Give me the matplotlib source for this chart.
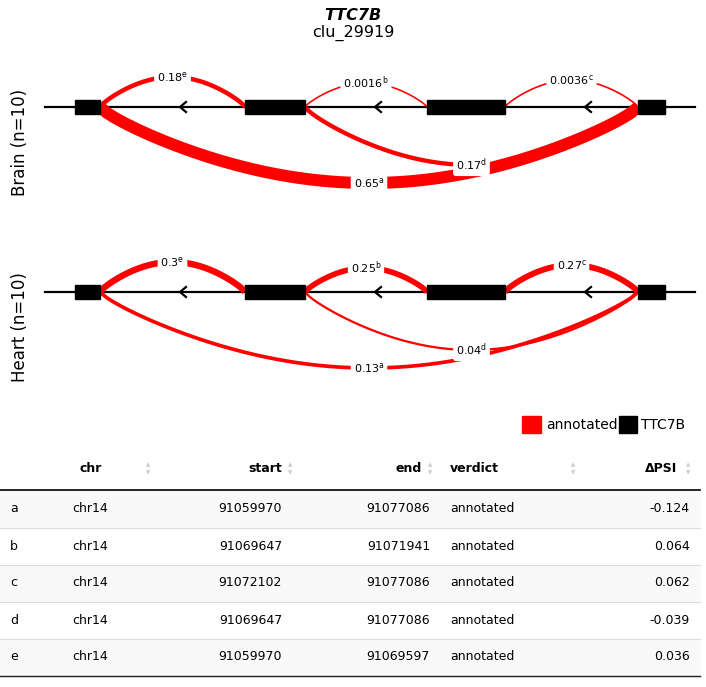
import numpy as np
import matplotlib.pyplot as plt

# gene model (schematic x positions) and junction usage
exons = [(75, 100), (245, 305), (427, 505), (638, 665)]
junc_ids = ['a', 'b', 'c', 'd', 'e']
junc_from = [0, 1, 2, 1, 0]   # exon index (right end)
junc_to = [3, 2, 3, 3, 1]     # exon index (left end)
junc_above = [False, True, True, False, True]
brain_psi = [0.65, 0.0016, 0.0036, 0.17, 0.18]
brain_lab = ['0.65', '0.0016', '0.0036', '0.17', '0.18']
heart_psi = [0.13, 0.25, 0.27, 0.04, 0.3]
heart_lab = ['0.13', '0.25', '0.27', '0.04', '0.3']
heights = [76, 24, 27, 58, 30]

tab_chr = ['chr14'] * 5
tab_start = [91059970, 91069647, 91072102, 91069647, 91059970]
tab_end = [91077086, 91071941, 91077086, 91077086, 91069597]
tab_verdict = ['annotated'] * 5
tab_dpsi = ['-0.124', '0.064', '0.062', '-0.039', '0.036']

fig = plt.figure(figsize=(7.06, 6.87), dpi=100)
ax = fig.add_axes([0, 0, 1, 1])
ax.set_xlim(0, 706)
ax.set_ylim(687, 0)
ax.axis('off')

ax.text(353, 15, 'TTC7B', ha='center', va='center', fontsize=11.5, fontweight='bold', style='italic')
ax.text(353, 33, 'clu_29919', ha='center', va='center', fontsize=11.5)


def panel(y0, psi, labs, name):
    ax.plot([45, 695], [y0, y0], color='black', lw=1.6, zorder=1)
    for ax_x in [180, 375, 585]:
        ax.plot([ax_x + 6, ax_x, ax_x + 6], [y0 - 5, y0, y0 + 5], color='black', lw=1.6, zorder=1)
    for i, j in enumerate(junc_ids):
        x1 = exons[junc_from[i]][1]
        x2 = exons[junc_to[i]][0]
        t = np.linspace(0, 1, 80)
        s = -1 if junc_above[i] else 1
        h = heights[i]
        xs = x1 + (x2 - x1) * t
        ys = y0 + s * h * np.sin(np.pi * t) ** 0.8
        ax.plot(xs, ys, color='red', lw=(1.6 + 16 * psi[i]) * 0.72, solid_capstyle='butt', zorder=2)
        ax.text((x1 + x2) / 2, y0 + s * h, labs[i] + r'$^{\mathrm{' + j + '}}$', ha='center', va='center',
                fontsize=8, zorder=4,
                bbox=dict(boxstyle='round,pad=0.25', fc='white', ec='none'))
    for a, b in exons:
        ax.add_patch(plt.Rectangle((a, y0 - 7), b - a, 14, color='black', zorder=3))
    ax.text(20, y0 + 35, name, rotation=90, ha='center', va='center', fontsize=12)


panel(107, brain_psi, brain_lab, 'Brain (n=10)')
panel(292, heart_psi, heart_lab, 'Heart (n=10)')

# legend
ax.add_patch(plt.Rectangle((522, 416), 19, 17, color='red'))
ax.text(546, 425, 'annotated', va='center', fontsize=10)
ax.add_patch(plt.Rectangle((619, 416), 18, 17, color='black'))
ax.text(641, 425, 'TTC7B', va='center', fontsize=10)

# table
hy = 469
ax.text(80, hy, 'chr', ha='left', va='center', fontsize=9, fontweight='bold')
ax.text(282, hy, 'start', ha='right', va='center', fontsize=9, fontweight='bold')
ax.text(422, hy, 'end', ha='right', va='center', fontsize=9, fontweight='bold')
ax.text(450, hy, 'verdict', ha='left', va='center', fontsize=9, fontweight='bold')
ax.text(677, hy, 'ΔPSI', ha='right', va='center', fontsize=9, fontweight='bold')
for sx in [148, 290, 430, 573, 688]:
    ax.text(sx, hy - 4, '▲', ha='center', va='center', fontsize=4, color='#cccccc')
    ax.text(sx, hy + 4, '▼', ha='center', va='center', fontsize=4, color='#cccccc')
ax.plot([0, 700], [490, 490], color='black', lw=1.2)
row_h = 37
for r in range(5):
    yc = 509 + r * row_h
    if r % 2 == 0:
        ax.add_patch(plt.Rectangle((0, yc - row_h / 2), 700, row_h, color='#f9f9f9', zorder=0))
    ax.plot([0, 700], [yc + row_h / 2, yc + row_h / 2], color='#dddddd', lw=0.8)
    ax.text(10, yc, junc_ids[r], va='center', fontsize=9)
    ax.text(72, yc, tab_chr[r], va='center', fontsize=9)
    ax.text(282, yc, str(tab_start[r]), ha='right', va='center', fontsize=9)
    ax.text(430, yc, str(tab_end[r]), ha='right', va='center', fontsize=9)
    ax.text(450, yc, tab_verdict[r], va='center', fontsize=9)
    ax.text(690, yc, tab_dpsi[r], ha='right', va='center', fontsize=9)
ax.plot([0, 700], [676, 676], color='#222222', lw=1)

fig.savefig('out.png', dpi=100)
